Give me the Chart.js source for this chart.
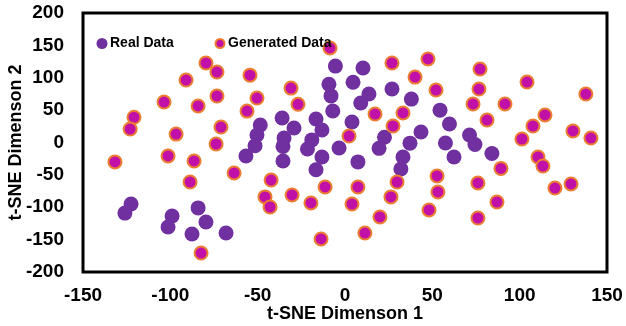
<!DOCTYPE html>
<html>
<head>
<meta charset="utf-8">
<script src="https://cdn.jsdelivr.net/npm/chart.js@4.4.1/dist/chart.umd.min.js"></script>
<style>
html,body{margin:0;padding:0;background:#fff;}
canvas{display:block;}
</style>
</head>
<body>
<canvas id="c" width="626" height="326"></canvas>
<script>
const seriesNames = ['Real Data', 'Generated Data'];
const xTitle = 't-SNE Dimenson 1';
const yTitle = 't-SNE Dimenson 2';

const realX = [-5.5,-9.2,-8,-7,-36,-16.6,-13.2,-48.5,-29.2,-50.4,-34.9,-19,-51.5,-56.7,-35.5,-35.5,-21.5,-13.2,-16.6,-3.4,4,4.6,10.3,13.7,9,7.4,19.5,22.6,26.9,38,33.2,32,37.2,43.5,54.4,59.8,57.5,62.4,71.3,74.4,84.1,-122.5,-126,-99,-101.3,-84.1,-79.6,-87.6,-68.1];
const realY = [118,90,72,48.6,37.8,36.3,19.3,27,22.4,11.6,7,4,-5,-20.8,-6,-28.6,-10,-22.4,-42,-8.5,31.7,93,115,75,61,-30,-9,8,82.6,67,-22.4,-41,-1,16.2,50,28.6,-0.8,-22.4,11.6,-3,-17,-95,-109,-113.5,-130.5,-101,-122.8,-141.3,-139.8];

const genX = [-79.6,-73.3,-91,-54.4,-30.9,-103.6,-84.1,-73.3,-50.4,-26.9,-56.1,-120.8,-123,-96.7,-71,-73.8,-131.7,-101.3,-86.4,-8.6,26.9,47.5,40.1,52.1,77.3,76.7,73.3,91.6,104.2,137.9,81.3,17.2,33.2,27.5,2.3,114.5,107.6,101.3,130.5,140.8,110.5,113.3,89.3,120.2,129.4,-11.4,-19.5,7.4,4,29.8,26.3,20,11.4,-13.7,52.7,53.2,48.1,76.1,76.1,87,-63.5,-88.7,-42.3,-45.8,-42.9,-30.3,-82.4];
const genY = [122.8,108.9,96.5,104,84,62.5,56.4,71.8,68.7,59,48.5,39,20.8,13,23.9,-2.3,-30,-20.8,-28.5,146,122.8,129,101,81,113.5,82.6,59.5,59.5,93.4,74.9,34.7,44,45.6,25.5,10,42.5,25.5,5.4,17.8,6.9,-22.4,-36.3,-40,-70.3,-64,-68.7,-93.4,-68.7,-95,-61,-84,-115,-139.8,-149,-51.7,-76.4,-104.2,-62.5,-116.6,-91.9,-47,-61,-58,-84,-99.6,-81,-170.7];

const realColor = '#7030A0';
const genFill = '#C010A8';
const genBorder = '#ED7D31';

const toPts = (xs, ys) => xs.map((x, i) => ({x: x, y: ys[i]}));

const tickFont = {family: '"Liberation Sans", Arial, sans-serif', size: 19, weight: 'bold'};
const titleFont = {family: '"Liberation Sans", Arial, sans-serif', size: 18, weight: 'bold'};

const framePlugin = {
  id: 'frame',
  beforeDatasetsDraw(chart) {
    const {ctx, chartArea: a} = chart;
    ctx.save();
    ctx.strokeStyle = '#000';
    ctx.lineWidth = 3;
    ctx.strokeRect(a.left, a.top, a.right - a.left, a.bottom - a.top);
    ctx.restore();
  }
};

const legendPlugin = {
  id: 'insideLegend',
  afterDatasetsDraw(chart) {
    const {ctx, chartArea: a} = chart;
    const items = [
      {label: seriesNames[0], fill: realColor, border: realColor, bw: 0, x: a.left + 19},
      {label: seriesNames[1], fill: genFill, border: genBorder, bw: 2, x: a.left + 137}
    ];
    const cy = a.top + 30.5;
    ctx.save();
    ctx.font = 'bold 14px "Liberation Sans", Arial, sans-serif';
    ctx.textBaseline = 'middle';
    ctx.textAlign = 'left';
    items.forEach(it => {
      ctx.beginPath();
      ctx.arc(it.x, cy, it.bw ? 4.5 : 5.5, 0, Math.PI * 2);
      ctx.fillStyle = it.fill;
      ctx.fill();
      if (it.bw) { ctx.lineWidth = it.bw; ctx.strokeStyle = it.border; ctx.stroke(); }
      ctx.fillStyle = '#000';
      ctx.fillText(it.label, it.x + 8, cy);
    });
    ctx.restore();
  }
};

new Chart(document.getElementById('c'), {
  type: 'scatter',
  data: {
    datasets: [
      {label: seriesNames[1], data: toPts(genX, genY), backgroundColor: genFill, borderColor: genBorder, borderWidth: 2, pointRadius: 6.5, pointHoverRadius: 6.5},
      {label: seriesNames[0], data: toPts(realX, realY), backgroundColor: realColor, borderColor: realColor, borderWidth: 0, pointRadius: 7.5, pointHoverRadius: 7.5}
    ]
  },
  options: {
    responsive: false,
    animation: false,
    events: [],
    layout: {padding: {left: 0, right: 19, top: 13, bottom: 0}},
    plugins: {legend: {display: false}, tooltip: {enabled: false}},
    scales: {
      x: {
        type: 'linear', min: -150, max: 150,
        ticks: {stepSize: 50, font: tickFont, color: '#000', padding: 12, maxRotation: 0},
        grid: {display: false, drawTicks: false},
        border: {display: false},
        title: {display: true, text: xTitle, font: titleFont, color: '#000', padding: {top: 0, bottom: 1}},
        afterFit(s) { s.height = 54; s.paddingLeft = 0; s.paddingRight = 0; s.paddingTop = 0; s.paddingBottom = 0; }
      },
      y: {
        type: 'linear', min: -200, max: 200,
        ticks: {stepSize: 50, font: tickFont, color: '#000', padding: 19},
        grid: {display: false, drawTicks: false},
        border: {display: false},
        title: {display: true, text: yTitle, font: titleFont, color: '#000', padding: {top: 5, bottom: 0}},
        afterFit(s) { s.width = 83; s.paddingLeft = 0; s.paddingRight = 0; s.paddingTop = 0; s.paddingBottom = 0; }
      }
    }
  },
  plugins: [framePlugin, legendPlugin]
});
</script>
</body>
</html>
